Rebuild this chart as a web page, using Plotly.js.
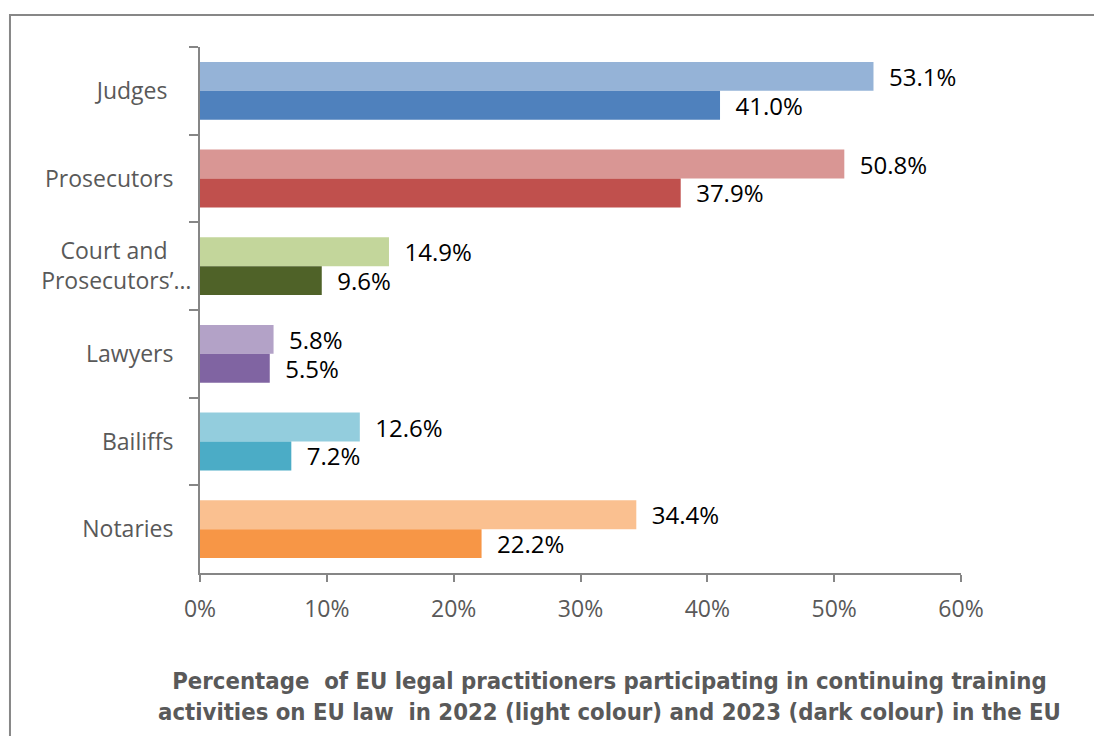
<!DOCTYPE html>
<html>
<head>
<meta charset="utf-8">
<script src="https://cdn.plot.ly/plotly-3.0.1.min.js"></script>
<style>
  body { margin: 0; background: #fff; }
  #chart { width: 1094px; height: 736px; }
</style>
</head>
<body>
<div id="chart"></div>
<script>
// categories (top to bottom); trailing nbsp mimic the original label alignment
let practitioners = [
    "Judges\u00a0\u00a0\u00a0\u00a0",
    "Prosecutors\u00a0\u00a0\u00a0",
    "Court and\u00a0\u00a0\u00a0\u00a0<br>Prosecutors’…",
    "Lawyers\u00a0\u00a0\u00a0",
    "Bailiffs\u00a0\u00a0\u00a0",
    "Notaries\u00a0\u00a0\u00a0"
];

// % participating, 2022 (light) and 2023 (dark)
let share2022 = [53.1, 50.8, 14.9, 5.8, 12.6, 34.4];
let share2023 = [41.0, 37.9, 9.6, 5.5, 7.2, 22.2];

let lightColours = ["#95B3D7", "#D99694", "#C3D69B", "#B3A2C7", "#93CDDD", "#FAC090"];
let darkColours  = ["#4F81BD", "#C0504D", "#4F6228", "#8064A2", "#4BACC6", "#F79646"];

let labelFont = { family: "Open Sans, sans-serif", size: 24, color: "#000000" };

let trace2022 = {
    x: share2022,
    y: practitioners,
    type: "bar",
    orientation: "h",
    name: "2022",
    marker: { color: lightColours },
    texttemplate: "\u00a0\u00a0%{x:.1f}%",
    textposition: "outside",
    textfont: labelFont,
    constraintext: "none",
    cliponaxis: false,
    hoverinfo: "x+y"
};
let trace2023 = {
    x: share2023,
    y: practitioners,
    type: "bar",
    orientation: "h",
    name: "2023",
    marker: { color: darkColours },
    texttemplate: "\u00a0\u00a0%{x:.1f}%",
    textposition: "outside",
    textfont: labelFont,
    constraintext: "none",
    cliponaxis: false,
    hoverinfo: "x+y"
};

let data = [trace2022, trace2023]; // 2022 first so it sits on top in each group

let layout = {
    width: 1094,
    height: 736,
    margin: { l: 200, r: 133, t: 47, b: 163 },
    paper_bgcolor: "#ffffff",
    plot_bgcolor: "#ffffff",
    showlegend: false,
    barmode: "group",
    bargap: 0.34,
    bargroupgap: 0,
    font: { family: "Open Sans, sans-serif", size: 23, color: "#595959" },
    xaxis: {
        range: [0, 60],
        dtick: 10,
        ticksuffix: "%",
        showgrid: false,
        zeroline: false,
        showline: true,
        linecolor: "#868686",
        linewidth: 2,
        ticks: "outside",
        ticklen: 7,
        tickwidth: 2,
        tickcolor: "#868686",
        ticklabelstandoff: 7,
        tickfont: { size: 23, color: "#595959" }
    },
    yaxis: {
        type: "category",
        autorange: "reversed",
        showgrid: false,
        zeroline: false,
        showline: true,
        linecolor: "#868686",
        linewidth: 2,
        ticks: "outside",
        tickson: "boundaries",
        ticklen: 9,
        tickwidth: 2,
        tickcolor: "#868686",
        ticklabelstandoff: 2,
        tickfont: { size: 23, color: "#595959" }
    },
    annotations: [{
        text: "Percentage  of EU legal practitioners participating in continuing training<br>activities on EU law  in 2022 (light colour) and 2023 (dark colour) in the EU",
        xref: "paper", yref: "paper",
        x: 0.5375, y: -0.234,
        xanchor: "center", yanchor: "middle",
        showarrow: false,
        align: "center",
        font: { family: "Liberation Sans Narrow, DejaVu Sans Condensed, Open Sans, sans-serif", size: 23.7, color: "#595959", weight: "bold" }
    }],
    shapes: [{
        // chart frame (only top and left edges fall inside the picture)
        type: "rect",
        xref: "paper", yref: "paper",
        x0: -0.2497, x1: 1.2, y0: -0.5, y1: 1.0608,
        line: { color: "#878787", width: 2 },
        fillcolor: "rgba(0,0,0,0)",
        layer: "below"
    }]
};

Plotly.newPlot("chart", data, layout, { displayModeBar: false, staticPlot: true });
</script>
</body>
</html>
